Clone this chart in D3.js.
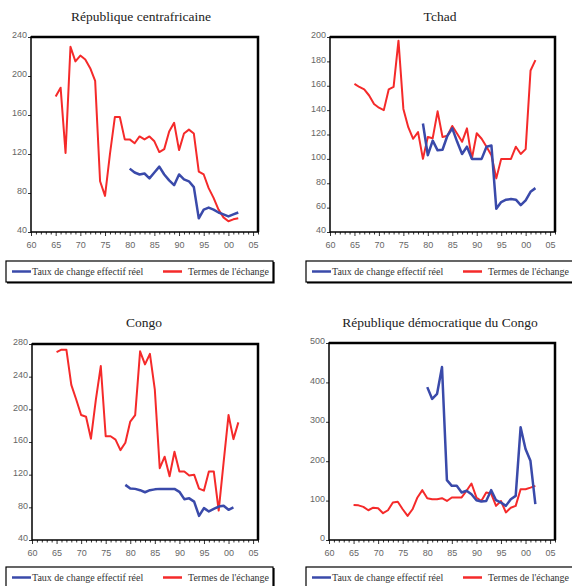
<!DOCTYPE html>
<html>
<head>
<meta charset="utf-8">
<script src="https://cdn.jsdelivr.net/npm/d3@7"></script>
<style>
body{margin:0;background:#fff;}
</style>
</head>
<body>
<div id="chart"></div>
<script>
// years shared by all four panels, 1965 -> 2002
let years=[1965,1966,1967,1968,1969,1970,1971,1972,1973,1974,1975,1976,1977,1978,1979,1980,1981,1982,1983,1984,
1985,1986,1987,1988,1989,1990,1991,1992,1993,1994,1995,1996,1997,1998,1999,2000,2001,2002];
let xTicks=[1960,1965,1970,1975,1980,1985,1990,1995,2000,2005];
let xLabels=["60","65","70","75","80","85","90","95","00","05"];

let titles=["République centrafricaine","Tchad","Congo","République démocratique du Congo"];
let legendNames=["Taux de change effectif réel","Termes de l'échange"];

// termes de l'echange (red)
let rcaTot=[179,188,121,230,215,221,217,208,195,92,77,120,158,158,135,135,131,138,135,138,
133,122,125,143,152,124,141,145,141,102,99,85,75,63,55,51,53,54];
let tchadTot=[161.6,159,157,152,145,142,140,157,159,197,141,126,116.5,122,100,118,117,139,118,119,
127,120.6,114,125,100,121,116.5,110,103,84,100,100,100,110,104,108,172.5,181];
let congoTot=[270,273,273,230,212,193,191,164,212,253,167,167,163,150,159,185,193,271,255,268,
224,128,142,118,148,124,124,119,120,103,100.5,124,124,76,135,193,163.5,184];
let rdcTot=[89,88,84,75.5,82,80.6,68,75.5,95,97,78,61,78,108,126.5,106,103.5,103.5,106,99,
108,108,108,125,143.5,108,99,120.5,118,86.6,99,70,82,86.6,129,129,133,137.5];

// taux de change effectif reel (blue), null = no data
let rcaTcer=[null,null,null,null,null,null,null,null,null,null,null,null,null,null,null,
105,101,99,100,95,101,107,99,93,88,99,94,92,86,54,63,65,63,60,58,56,58,60];
let tchadTcer=[null,null,null,null,null,null,null,null,null,null,null,null,null,null,
129,103,115,107,107.5,119,125,114,104,110,100,100,100,110,111,59,64.6,66.5,67,66.5,62,66,73,76];
let congoTcer=[null,null,null,null,null,null,null,null,null,null,null,null,null,null,
107.5,103,102.6,101,98.5,101,102,102.6,102.6,102.6,102.6,99,90,91,87,69.5,79,75,78,81,82,77,80,null];
let rdcTcer=[null,null,null,null,null,null,null,null,null,null,null,null,null,null,null,
388,358,371,439,152,137.5,137.5,120.5,125,116,101,97.6,99,126.5,101,95,86.6,103.6,112,286,231,201,91];

let rcaY=[40,80,120,160,200,240];
let tchadY=[40,60,80,100,120,140,160,180,200];
let congoY=[40,80,120,160,200,240,280];
let rdcY=[0,100,200,300,400,500];

let blue="#3a4aaa";
let red="#f52a2a";
let serif="'Liberation Serif','DejaVu Serif',serif";
let sans="'Liberation Sans','DejaVu Sans',sans-serif";

let panels=[
  {title:titles[0],tot:rcaTot,tcer:rcaTcer,yt:rcaY,box:[31,258,37,232],tx:141,ty:21,leg:[6,261]},
  {title:titles[1],tot:tchadTot,tcer:tchadTcer,yt:tchadY,box:[330,555,37,232],tx:440,ty:21,leg:[306,261]},
  {title:titles[2],tot:congoTot,tcer:congoTcer,yt:congoY,box:[32,258,344,540],tx:144,ty:327,leg:[6,567]},
  {title:titles[3],tot:rdcTot,tcer:rdcTcer,yt:rdcY,box:[329,555,343,540],tx:440,ty:327,leg:[306,567]}
];

let svg=d3.select("#chart").append("svg")
.attr("width",572)
.attr("height",586);

svg.append("rect").attr("width",572).attr("height",586).attr("fill","#fff");

panels.forEach(function(p){
  drawPanel(p);
});

function drawPanel(p){
  let l=p.box[0],r=p.box[1],t=p.box[2],b=p.box[3];
  let x=d3.scaleLinear().domain([1960,2006]).range([l,r]);
  let y=d3.scaleLinear().domain([p.yt[0],p.yt[p.yt.length-1]]).range([b,t]);

  svg.append("text").text(p.title)
  .attr("x",p.tx)
  .attr("y",p.ty)
  .attr("text-anchor","middle")
  .attr("font-family",serif)
  .attr("font-size",13.5)
  .attr("fill","#222");

  // yearly minor ticks on the x axis
  let allYears=d3.range(1960,2007);
  let xAxis=d3.axisBottom(x).tickValues(allYears).tickSize(2.5).tickPadding(7)
  .tickFormat(function(d){
    let i=xTicks.indexOf(d);
    return i>-1 ? xLabels[i] : "";
  });
  let gx=svg.append("g").attr("transform","translate(0,"+b+")").call(xAxis)
  .attr("font-family",sans).attr("font-size",9);
  gx.select(".domain").remove();
  gx.selectAll(".tick").filter(function(d){return xTicks.indexOf(d)>-1;})
  .select("line").attr("y2",4);
  gx.selectAll(".tick line").attr("stroke","#333");
  gx.selectAll(".tick text").attr("fill","#666");

  let yAxis=d3.axisLeft(y).tickValues(p.yt).tickSize(3).tickPadding(1);
  let gy=svg.append("g").attr("transform","translate("+l+",0)").call(yAxis)
  .attr("font-family",sans).attr("font-size",9);
  gy.select(".domain").remove();
  gy.selectAll(".tick text").attr("dy","0.1em").attr("fill","#666");
  gy.selectAll(".tick line").attr("stroke","#333");

  let line=d3.line()
  .defined(function(d){return d!==null;})
  .x(function(d,i){return x(years[i]);})
  .y(function(d){return y(d);});

  svg.append("path").datum(p.tot)
  .attr("d",line)
  .attr("fill","none")
  .attr("stroke",red)
  .attr("stroke-width",2)
  .attr("stroke-linejoin","round");

  svg.append("path").datum(p.tcer)
  .attr("d",line)
  .attr("fill","none")
  .attr("stroke",blue)
  .attr("stroke-width",2.5)
  .attr("stroke-linejoin","round");

  // frame: thin left/bottom, heavier top/right
  svg.append("rect")
  .attr("x",l).attr("y",t)
  .attr("width",r-l).attr("height",b-t)
  .attr("fill","none")
  .attr("stroke","#000")
  .attr("stroke-width",1.5);
  svg.append("path")
  .attr("d","M"+l+","+t+"H"+r+"V"+b)
  .attr("fill","none")
  .attr("stroke","#000")
  .attr("stroke-width",2.5);

  drawLegend(p.leg[0],p.leg[1]);
}

function drawLegend(lx,ly){
  let w=267,h=21;
  let g=svg.append("g").attr("transform","translate("+lx+","+ly+")");
  g.append("rect")
  .attr("width",w).attr("height",h)
  .attr("fill","#fff")
  .attr("stroke","#000")
  .attr("stroke-width",1.2);
  g.append("path")
  .attr("d","M1,"+(h+0.8)+"H"+(w+0.8)+"V1")
  .attr("fill","none")
  .attr("stroke","#000")
  .attr("stroke-width",1.6);

  let items=[[6,26,blue,legendNames[0]],[157,182,red,legendNames[1]]];
  items.forEach(function(it){
    g.append("line")
    .attr("x1",it[0]).attr("x2",it[0]+19)
    .attr("y1",h/2).attr("y2",h/2)
    .attr("stroke",it[2])
    .attr("stroke-width",2.5);
    g.append("text").text(it[3])
    .attr("x",it[1])
    .attr("y",h/2+3.5)
    .attr("font-family",serif)
    .attr("font-size",10)
    .attr("fill","#333");
  });
}
</script>
</body>
</html>
